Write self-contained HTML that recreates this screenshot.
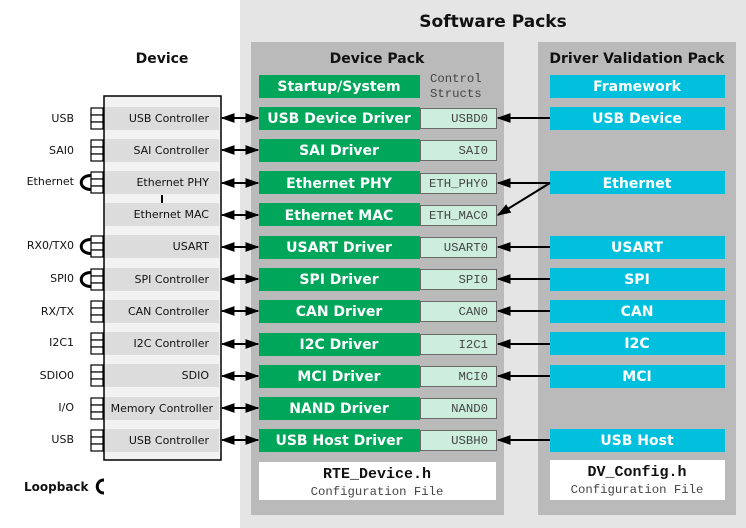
<!DOCTYPE html>
<html><head><meta charset="utf-8"><style>
body{margin:0;background:#fff}
svg{display:block}
.s{font-family:"DejaVu Sans","Liberation Sans",sans-serif}
.g{font-family:"DejaVu Sans","Liberation Sans",sans-serif;font-weight:bold;font-size:14px;fill:#fff}
.m{font-family:"Liberation Mono","DejaVu Sans Mono",monospace;font-size:12.3px;fill:#444}
.d{font-family:"DejaVu Sans","Liberation Sans",sans-serif;font-size:11px;fill:#111}
</style></head><body>
<svg width="746" height="528" viewBox="0 0 746 528" xmlns="http://www.w3.org/2000/svg">
<defs>
<marker id="a" viewBox="0 0 10 10" refX="9" refY="5" markerWidth="7" markerHeight="7" orient="auto-start-reverse"><path d="M0,1.5 L10,5 L0,8.5 z" fill="#000"/></marker>
</defs>
<rect x="240" y="0" width="506" height="528" fill="#e5e5e5"/>
<text x="493" y="27" text-anchor="middle" class="s" font-weight="bold" font-size="17" fill="#111">Software Packs</text>
<rect x="251" y="42" width="253" height="473" fill="#bababa"/>
<rect x="538" y="42" width="198" height="473" fill="#bababa"/>
<text x="377" y="63" text-anchor="middle" class="s" font-weight="bold" font-size="14" fill="#111">Device Pack</text>
<text x="637" y="63" text-anchor="middle" class="s" font-weight="bold" font-size="14" fill="#111">Driver Validation Pack</text>
<text x="162" y="63" text-anchor="middle" class="s" font-weight="bold" font-size="14" fill="#111">Device</text>

<rect x="104" y="96" width="117" height="364" fill="#f2f2f2" stroke="#000" stroke-width="1.5"/>
<g fill="#dcdcdc">
<rect x="105" y="107" width="114" height="23"/><rect x="105" y="139" width="114" height="23"/>
<rect x="105" y="171" width="114" height="23"/><rect x="105" y="203" width="114" height="23"/>
<rect x="105" y="235" width="114" height="23"/><rect x="105" y="268" width="114" height="23"/>
<rect x="105" y="300" width="114" height="23"/><rect x="105" y="332" width="114" height="23"/>
<rect x="105" y="364" width="114" height="23"/><rect x="105" y="397" width="114" height="23"/>
<rect x="105" y="429" width="114" height="23"/>
</g>
<rect x="161" y="195" width="2" height="8" fill="#000"/>
<g class="d" text-anchor="end">
<text x="209" y="122">USB  Controller</text><text x="209" y="154">SAI Controller</text>
<text x="209" y="186">Ethernet  PHY</text><text x="209" y="218">Ethernet  MAC</text>
<text x="209" y="250">USART</text><text x="209" y="283">SPI Controller</text>
<text x="209" y="315">CAN Controller</text><text x="209" y="347">I2C Controller</text>
<text x="209" y="379">SDIO</text><text x="213" y="412">Memory Controller</text>
<text x="209" y="444">USB  Controller</text>
</g>
<g class="d" text-anchor="end">
<text x="74" y="122">USB</text><text x="74" y="154">SAI0</text><text x="74" y="185">Ethernet</text>
<text x="74" y="249">RX0/TX0</text><text x="74" y="282">SPI0</text><text x="74" y="315">RX/TX</text>
<text x="74" y="346">I2C1</text><text x="74" y="379">SDIO0</text><text x="74" y="411">I/O</text>
<text x="74" y="443">USB</text>
</g>
<g fill="#fff" stroke="#000" stroke-width="1.2">
<rect x="91" y="108" width="12" height="7"/><rect x="91" y="115" width="12" height="7"/><rect x="91" y="122" width="12" height="7"/>
<rect x="91" y="140" width="12" height="7"/><rect x="91" y="147" width="12" height="7"/><rect x="91" y="154" width="12" height="7"/>
<rect x="91" y="172" width="12" height="7"/><rect x="91" y="179" width="12" height="7"/><rect x="91" y="186" width="12" height="7"/>
<rect x="91" y="236" width="12" height="7"/><rect x="91" y="243" width="12" height="7"/><rect x="91" y="250" width="12" height="7"/>
<rect x="91" y="269" width="12" height="7"/><rect x="91" y="276" width="12" height="7"/><rect x="91" y="283" width="12" height="7"/>
<rect x="91" y="301" width="12" height="7"/><rect x="91" y="308" width="12" height="7"/><rect x="91" y="315" width="12" height="7"/>
<rect x="91" y="333" width="12" height="7"/><rect x="91" y="340" width="12" height="7"/><rect x="91" y="347" width="12" height="7"/>
<rect x="91" y="365" width="12" height="7"/><rect x="91" y="372" width="12" height="7"/><rect x="91" y="379" width="12" height="7"/>
<rect x="91" y="398" width="12" height="7"/><rect x="91" y="405" width="12" height="7"/><rect x="91" y="412" width="12" height="7"/>
<rect x="91" y="430" width="12" height="7"/><rect x="91" y="437" width="12" height="7"/><rect x="91" y="444" width="12" height="7"/>
</g>
<g fill="none" stroke="#000" stroke-width="3">
<path d="M91,175.5 C78,175.5 78,189.5 91,189.5"/>
<path d="M91,239.5 C78,239.5 78,253.5 91,253.5"/>
<path d="M91,272.5 C78,272.5 78,286.5 91,286.5"/>
<path d="M104,480 C95,480 95,493 104,493"/>
</g>
<text x="24" y="491" class="s" font-weight="bold" font-size="12" fill="#111">Loopback</text>

<g stroke="#000" stroke-width="2" marker-start="url(#a)" marker-end="url(#a)">
<line x1="222" y1="118" x2="258" y2="118"/><line x1="222" y1="150" x2="258" y2="150"/>
<line x1="222" y1="183" x2="258" y2="183"/><line x1="222" y1="215" x2="258" y2="215"/>
<line x1="222" y1="247" x2="258" y2="247"/><line x1="222" y1="279" x2="258" y2="279"/>
<line x1="222" y1="311" x2="258" y2="311"/><line x1="222" y1="344" x2="258" y2="344"/>
<line x1="222" y1="376" x2="258" y2="376"/><line x1="222" y1="408" x2="258" y2="408"/>
<line x1="222" y1="440" x2="258" y2="440"/>
</g>

<g fill="#00a65a">
<rect x="259" y="75" width="161" height="23"/><rect x="259" y="107" width="161" height="23"/>
<rect x="259" y="139" width="161" height="23"/><rect x="259" y="171" width="161" height="23"/>
<rect x="259" y="203" width="161" height="23"/><rect x="259" y="236" width="161" height="23"/>
<rect x="259" y="268" width="161" height="23"/><rect x="259" y="300" width="161" height="23"/>
<rect x="259" y="333" width="161" height="23"/><rect x="259" y="365" width="161" height="23"/>
<rect x="259" y="397" width="161" height="23"/><rect x="259" y="429" width="161" height="23"/>
</g>
<g class="g" text-anchor="middle">
<text x="339" y="91">Startup/System</text><text x="339" y="123">USB Device Driver</text>
<text x="339" y="155">SAI Driver</text><text x="339" y="188">Ethernet PHY</text>
<text x="339" y="220">Ethernet MAC</text><text x="339" y="252">USART Driver</text>
<text x="339" y="284">SPI Driver</text><text x="339" y="316">CAN Driver</text>
<text x="339" y="349">I2C Driver</text><text x="339" y="381">MCI Driver</text>
<text x="339" y="413">NAND Driver</text><text x="339" y="445">USB Host Driver</text>
</g>
<text x="430" y="82" class="m">Control</text><text x="430" y="97" class="m">Structs</text>
<g fill="#cdeedd" stroke="#6a6a6a" stroke-width="1">
<rect x="420.5" y="108.5" width="76" height="20"/><rect x="420.5" y="140.5" width="76" height="20"/>
<rect x="420.5" y="173.5" width="76" height="20"/><rect x="420.5" y="205.5" width="76" height="20"/>
<rect x="420.5" y="237.5" width="76" height="20"/><rect x="420.5" y="269.5" width="76" height="20"/>
<rect x="420.5" y="301.5" width="76" height="20"/><rect x="420.5" y="334.5" width="76" height="20"/>
<rect x="420.5" y="366.5" width="76" height="20"/><rect x="420.5" y="398.5" width="76" height="20"/>
<rect x="420.5" y="430.5" width="76" height="20"/>
</g>
<g class="m" text-anchor="end">
<text x="488" y="122">USBD0</text><text x="488" y="154">SAI0</text>
<text x="488" y="187">ETH_PHY0</text><text x="488" y="219">ETH_MAC0</text>
<text x="488" y="251">USART0</text><text x="488" y="283">SPI0</text>
<text x="488" y="315">CAN0</text><text x="488" y="348">I2C1</text>
<text x="488" y="380">MCI0</text><text x="488" y="412">NAND0</text>
<text x="488" y="444">USBH0</text>
</g>

<g fill="#00c0de">
<rect x="550" y="75" width="175" height="23"/><rect x="550" y="107" width="175" height="23"/>
<rect x="550" y="171" width="175" height="23"/><rect x="550" y="236" width="175" height="23"/>
<rect x="550" y="268" width="175" height="23"/><rect x="550" y="300" width="175" height="23"/>
<rect x="550" y="332" width="175" height="23"/><rect x="550" y="365" width="175" height="23"/>
<rect x="550" y="429" width="175" height="23"/>
</g>
<g class="g" text-anchor="middle">
<text x="637" y="91">Framework</text><text x="637" y="123">USB Device</text>
<text x="637" y="188">Ethernet</text><text x="637" y="252">USART</text>
<text x="637" y="284">SPI</text><text x="637" y="316">CAN</text>
<text x="637" y="348">I2C</text><text x="637" y="381">MCI</text>
<text x="637" y="445">USB Host</text>
</g>
<g stroke="#000" stroke-width="2" marker-end="url(#a)">
<line x1="550" y1="118" x2="498" y2="118"/>
<line x1="550" y1="183" x2="498" y2="183"/>
<line x1="550" y1="183" x2="498" y2="215"/>
<line x1="550" y1="247" x2="498" y2="247"/>
<line x1="550" y1="279" x2="498" y2="279"/>
<line x1="550" y1="311" x2="498" y2="311"/>
<line x1="550" y1="344" x2="498" y2="344"/>
<line x1="550" y1="376" x2="498" y2="376"/>
<line x1="550" y1="440" x2="498" y2="440"/>
</g>

<rect x="259" y="462" width="237" height="38" fill="#fff"/>
<rect x="550" y="460" width="175" height="40" fill="#fff"/>
<text x="377" y="478" text-anchor="middle" font-family="Liberation Mono,monospace" font-weight="bold" font-size="15" fill="#111">RTE_Device.h</text>
<text x="377" y="495" text-anchor="middle" class="m" font-size="13.3">Configuration File</text>
<text x="637" y="476" text-anchor="middle" font-family="Liberation Mono,monospace" font-weight="bold" font-size="15" fill="#111">DV_Config.h</text>
<text x="637" y="493" text-anchor="middle" class="m" font-size="13.3">Configuration File</text>
</svg>
</body></html>
